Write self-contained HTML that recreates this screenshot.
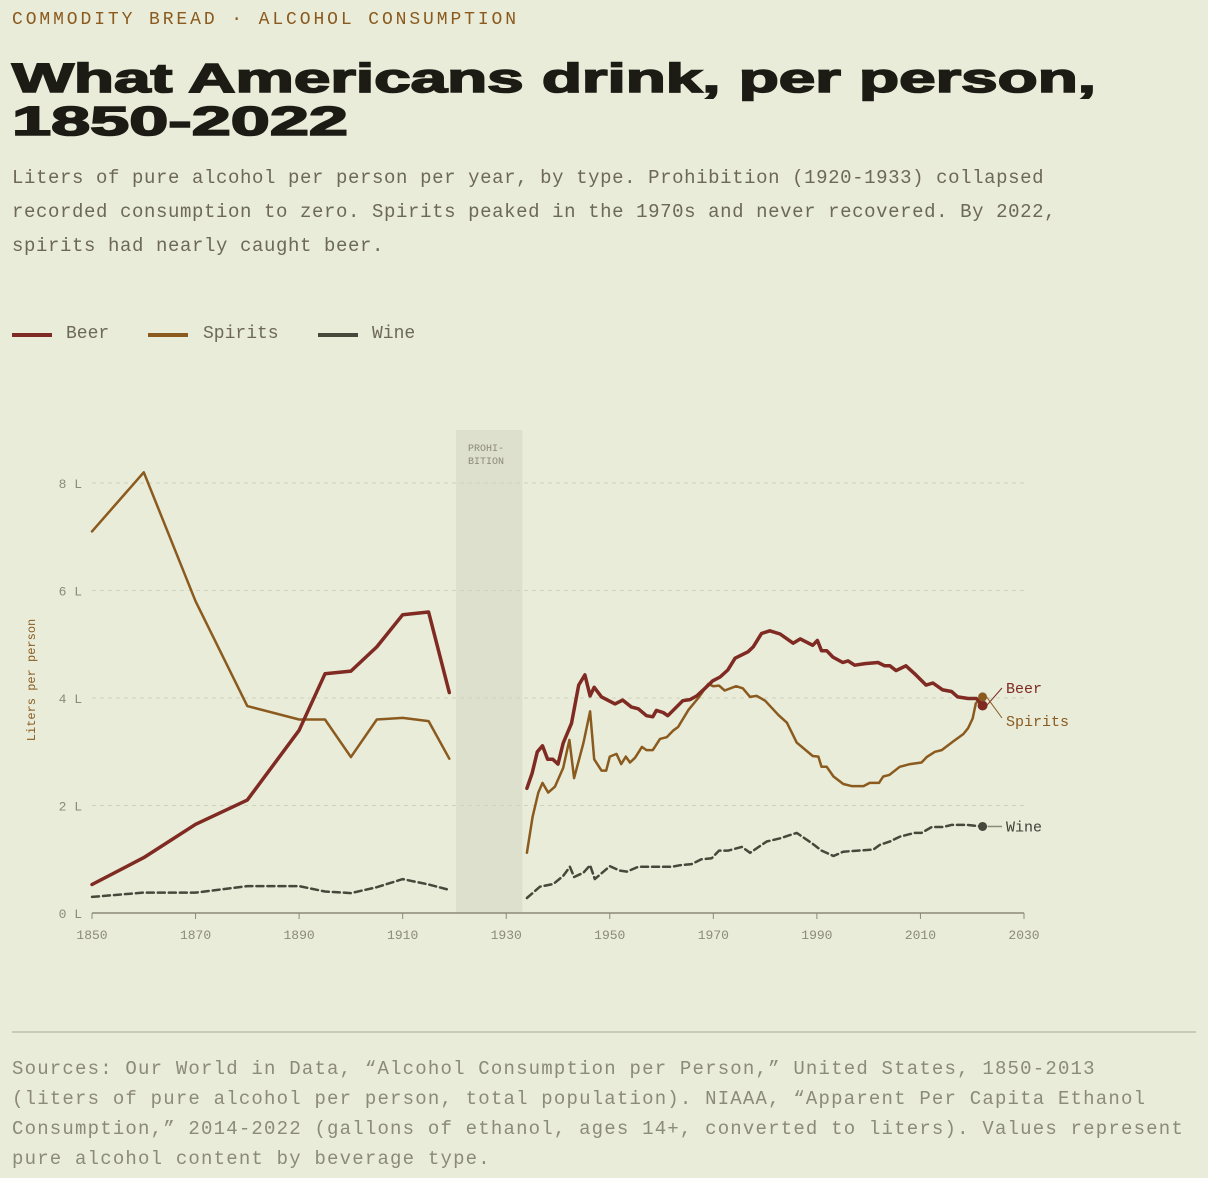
<!DOCTYPE html>
<html><head><meta charset="utf-8">
<style>
html,body{margin:0;padding:0;background:#e8ecd8;}
body{width:1208px;height:1178px;position:relative;overflow:hidden;font-family:"Liberation Mono",monospace;}
.abs{position:absolute;}
#kicker{left:12px;top:10px;font-size:18px;letter-spacing:2.9px;color:#8b5a1f;}
#sub{left:12px;top:161px;font-size:19px;letter-spacing:0.6px;line-height:34px;color:#6e6858;width:1180px;}
.leg{top:324px;font-size:18px;color:#6e6858;}
.legline{position:absolute;top:333px;width:40px;height:4px;}
#foot{left:12px;top:1054px;font-size:19px;letter-spacing:1.2px;line-height:30px;color:#8c8a7a;width:1190px;}
#rule{left:12px;top:1031px;width:1184px;height:2px;background:#c9ccb4;}
</style></head>
<body>
<div id="kicker" class="abs">COMMODITY BREAD · ALCOHOL CONSUMPTION</div>
<svg class="abs" style="left:0;top:0" width="1208" height="150">
<text x="12" y="92" textLength="1084" lengthAdjust="spacingAndGlyphs" font-family="Liberation Sans, sans-serif" font-weight="bold" font-size="41" fill="#1c1b14" stroke="#1c1b14" stroke-width="1.6">What Americans drink, per person,</text>
<text x="12" y="135" textLength="336" lengthAdjust="spacingAndGlyphs" font-family="Liberation Sans, sans-serif" font-weight="bold" font-size="41" fill="#1c1b14" stroke="#1c1b14" stroke-width="1.6">1850-2022</text>
</svg>
<div id="sub" class="abs">Liters of pure alcohol per person per year, by type. Prohibition (1920-1933) collapsed<br>recorded consumption to zero. Spirits peaked in the 1970s and never recovered. By 2022,<br>spirits had nearly caught beer.</div>

<div class="legline" style="left:12px;background:#7f2a22"></div>
<div class="abs leg" style="left:66px">Beer</div>
<div class="legline" style="left:148px;background:#8b5a1f"></div>
<div class="abs leg" style="left:203px">Spirits</div>
<div class="legline" style="left:318px;background:#45483a"></div>
<div class="abs leg" style="left:372px">Wine</div>

<svg id="chart" class="abs" style="left:0;top:0" width="1208" height="1000"></svg>

<div id="rule" class="abs"></div>
<div id="foot" class="abs">Sources: Our World in Data, “Alcohol Consumption per Person,” United States, 1850-2013<br>(liters of pure alcohol per person, total population). NIAAA, “Apparent Per Capita Ethanol<br>Consumption,” 2014-2022 (gallons of ethanol, ages 14+, converted to liters). Values represent<br>pure alcohol content by beverage type.</div>

<script>
const xTicks = [1850,1870,1890,1910,1930,1950,1970,1990,2010,2030];
const yTicks = [0,2,4,6,8];
const preYears = [1850,1860,1870,1880,1890,1895,1900,1905,1910,1915,1919];
const beerPre = [0.53,1.03,1.65,2.1,3.4,4.45,4.5,4.95,5.55,5.6,4.1];
const spiritsPre = [7.1,8.2,5.8,3.85,3.6,3.6,2.9,3.6,3.63,3.57,2.87];
const winePre = [0.3,0.38,0.38,0.5,0.5,0.4,0.37,0.48,0.63,0.53,0.43];
const beerPostYears = [1934,1935,1936,1937,1938,1939,1940,1941,1942.6,1944,1945.2,1946.2,1947,1948.4,1951,1952.5,1954.2,1955.5,1957.1,1958.3,1959,1960.3,1961.2,1964.1,1965.5,1966.8,1968.4,1969.9,1971.3,1972.8,1974.2,1976.7,1977.7,1979.3,1980.9,1982.9,1985.4,1986.8,1989.2,1990.1,1990.9,1991.9,1993.1,1995,1996,1997.3,1999.3,2001.8,2003.1,2004.1,2005.3,2007.2,2008.9,2011.1,2012.4,2014.3,2016,2017.2,2019.2,2020.8,2022];
const beerPost = [2.32,2.6,3.0,3.11,2.86,2.86,2.77,3.16,3.53,4.24,4.43,4.04,4.2,4.02,3.89,3.96,3.83,3.8,3.67,3.65,3.77,3.73,3.67,3.95,3.97,4.04,4.18,4.32,4.39,4.52,4.74,4.86,4.95,5.2,5.25,5.19,5.02,5.1,4.98,5.07,4.88,4.88,4.76,4.66,4.69,4.61,4.64,4.66,4.6,4.6,4.51,4.6,4.45,4.24,4.28,4.15,4.12,4.02,3.99,3.99,3.86];
const spiritsPostYears = [1934,1935.1,1936.2,1937,1938.1,1939.4,1941,1942.2,1943.1,1944.9,1946.2,1947,1948.4,1949.3,1950,1951.3,1952.2,1953.1,1953.9,1954.9,1956.2,1957.1,1958.3,1959.7,1961,1962.3,1963.2,1965.2,1967.1,1969,1970,1971.1,1972.2,1974.4,1975.7,1977.1,1978.4,1980,1982.6,1984.2,1985.1,1986.1,1989.2,1990.3,1990.9,1991.9,1993.2,1995.1,1996.7,1999,2000.2,2002,2002.8,2004,2006,2008,2010.2,2011.2,2012.8,2014.1,2016.3,2018.3,2019.2,2020.1,2020.7,2022];
const spiritsPost = [1.12,1.79,2.24,2.42,2.24,2.35,2.7,3.22,2.51,3.16,3.75,2.86,2.65,2.65,2.91,2.96,2.77,2.91,2.8,2.89,3.09,3.03,3.03,3.24,3.27,3.4,3.46,3.78,4.0,4.26,4.22,4.23,4.14,4.22,4.18,4.02,4.04,3.95,3.68,3.54,3.37,3.17,2.92,2.91,2.72,2.72,2.54,2.4,2.36,2.36,2.42,2.42,2.54,2.57,2.72,2.77,2.8,2.9,3.0,3.03,3.19,3.33,3.44,3.62,3.9,4.02];
const winePostYears = [1934,1936.5,1939.1,1941,1942.3,1943.1,1944.9,1946.2,1947.1,1950,1951.9,1953.3,1955.5,1959.7,1962,1963.6,1965.8,1967.7,1969.7,1971.1,1972.9,1975.5,1977.1,1980.3,1982.9,1986.1,1989,1990.9,1993.2,1995.1,1998,2000.9,2002.2,2004.1,2006,2008.9,2010.2,2012.2,2014.4,2016,2018.9,2022];
const winePost = [0.28,0.49,0.54,0.69,0.86,0.67,0.75,0.89,0.63,0.87,0.79,0.77,0.86,0.86,0.86,0.89,0.91,1.0,1.02,1.16,1.16,1.23,1.12,1.33,1.39,1.49,1.3,1.16,1.06,1.14,1.16,1.18,1.27,1.33,1.42,1.49,1.49,1.6,1.6,1.64,1.64,1.61];

const NS = "http://www.w3.org/2000/svg";
const svg = document.getElementById('chart');
function X(y){return 92 + (y-1850)*(932/180);}
function Y(v){return 913 - v*53.75;}
function mk(tag, attrs, parent){const e=document.createElementNS(NS,tag);for(const k in attrs)e.setAttribute(k,attrs[k]);(parent||svg).appendChild(e);return e;}

const band = mk('rect',{x:X(1920.3),y:430,width:X(1933.1)-X(1920.3),height:913-430,fill:'#dde0cc'});


['PROHI-','BITION'].forEach((t,i)=>{
  const tx = mk('text',{x:X(1920.3)+12,y:451+i*13,'font-size':10,'font-family':'Liberation Mono, monospace',fill:'#8c8a7a'});
  tx.textContent=t;
  
  
});

yTicks.forEach(v=>{
  if(v>0){
    const g = mk('line',{x1:92,x2:1024,y1:Y(v),y2:Y(v),stroke:'#cfd2bc','stroke-width':1,'stroke-dasharray':'4 4'});
    
    
  }
  const t = mk('text',{x:82,y:Y(v)+5,'text-anchor':'end','font-size':13,'font-family':'Liberation Mono, monospace',fill:'#8c8a7a'});
  t.textContent = v+' L';
  
  
});
const ax = mk('line',{x1:92,x2:1024,y1:913,y2:913,stroke:'#8c8a7a','stroke-width':1.5});


xTicks.forEach(yr=>{
  const tk = mk('line',{x1:X(yr),x2:X(yr),y1:913,y2:919,stroke:'#8c8a7a','stroke-width':1});
  
  
  const t = mk('text',{x:X(yr),y:939,'text-anchor':'middle','font-size':13,'font-family':'Liberation Mono, monospace',fill:'#8c8a7a'});
  t.textContent = yr;
  
  
});
const yt = mk('text',{x:0,y:0,transform:'translate(35,680) rotate(-90)','text-anchor':'middle','font-size':12,'font-family':'Liberation Mono, monospace',fill:'#8b5a1f'});
yt.textContent='Liters per person';



function path(xs, vs){return xs.map((y,i)=>(i?'L':'M')+X(y).toFixed(1)+' '+Y(vs[i]).toFixed(1)).join(' ');}
function series(xs, vs, color, w, dash, name){
  const p = mk('path',{d:path(xs,vs),fill:'none',stroke:color,'stroke-width':w,'stroke-linejoin':'round','stroke-linecap':'round'});
  if(dash) p.setAttribute('stroke-dasharray',dash);
  
  
}
series(preYears,winePre,'#45483a',2.5,'7 4','wine-line-pre');
series(winePostYears,winePost,'#45483a',2.5,'7 4','wine-line-post');
series(preYears,spiritsPre,'#8b5a1f',2.5,null,'spirits-line-pre');
series(spiritsPostYears,spiritsPost,'#8b5a1f',2.5,null,'spirits-line-post');
series(preYears,beerPre,'#7f2a22',3.5,null,'beer-line-pre');
series(beerPostYears,beerPost,'#7f2a22',3.5,null,'beer-line-post');

const bx = X(2022), by = Y(beerPost[beerPost.length-1]);
const sy = Y(spiritsPost[spiritsPost.length-1]);
const wy = Y(winePost[winePost.length-1]);
let c;
c = mk('line',{x1:bx+4,y1:by,x2:1002,y2:688,stroke:'#7f2a22','stroke-width':1});
 
c = mk('line',{x1:bx+4,y1:sy,x2:1002,y2:718,stroke:'#8b5a1f','stroke-width':1});
 
c = mk('line',{x1:bx+5,y1:wy,x2:1002,y2:wy,stroke:'#8c8a7a','stroke-width':1.5});
 
c = mk('circle',{cx:bx,cy:by,r:5,fill:'#7f2a22'});
 
c = mk('circle',{cx:bx,cy:sy,r:4.5,fill:'#8b5a1f'});
 
c = mk('circle',{cx:bx,cy:wy,r:4.5,fill:'#45483a'});
 
[['Beer',693,'#7f2a22','beer-end-label'],['Spirits',726,'#8b5a1f','spirits-end-label'],['Wine',wy+5,'#3f3f35','wine-end-label']].forEach(a=>{
  const t = mk('text',{x:1006,y:a[1],'font-size':15,'font-family':'Liberation Mono, monospace',fill:a[2]});
  t.textContent=a[0];
  
  
});
</script>
</body></html>
